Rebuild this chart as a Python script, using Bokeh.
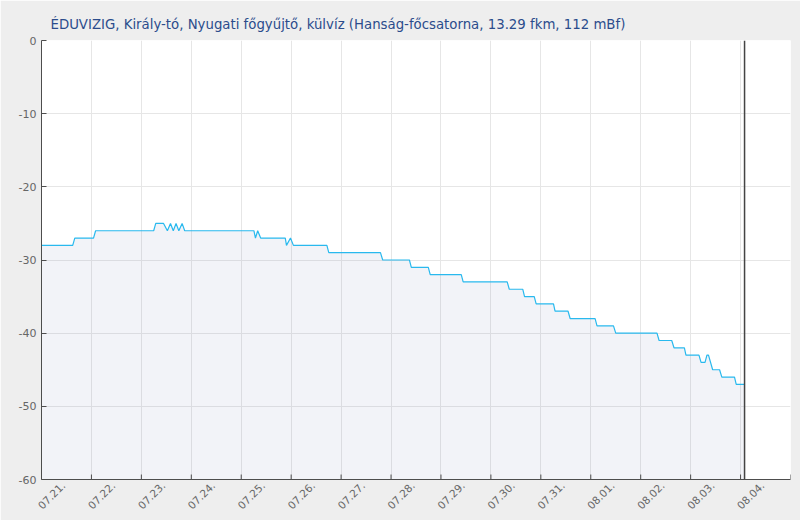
import math
import pandas as pd
from bokeh.plotting import figure
from bokeh.models import FixedTicker, DatetimeTickFormatter, Span, ColumnDataSource, BoxAnnotation
from bokeh.embed import file_html
from bokeh.resources import INLINE

YEAR = "2024"
TITLE = "ÉDUVIZIG, Király-tó, Nyugati főgyűjtő, külvíz (Hanság-főcsatorna, 13.29 fkm, 112 mBf)"

# measurement times (MM-DD HH:MM) and water levels (cm)
TIMES = [
    "07-21 00:00", "07-21 15:00", "07-21 16:00", "07-22 01:00", "07-22 02:00",
    "07-23 05:55", "07-23 06:55", "07-23 10:40", "07-23 12:30", "07-23 14:00",
    "07-23 15:20", "07-23 16:40", "07-23 18:00", "07-23 19:35", "07-23 20:50",
    "07-25 06:05", "07-25 06:50", "07-25 07:55", "07-25 09:20", "07-25 21:10",
    "07-25 21:45", "07-25 23:40", "07-26 01:05", "07-26 17:10", "07-26 18:05",
    "07-27 18:55", "07-27 20:00", "07-28 08:50", "07-28 09:45", "07-28 17:55",
    "07-28 18:50", "07-29 09:45", "07-29 10:40", "07-30 07:50", "07-30 08:50",
    "07-30 15:20", "07-30 16:10", "07-30 20:50", "07-30 21:45", "07-31 06:05",
    "07-31 06:50", "07-31 13:05", "07-31 14:05", "08-01 02:05", "08-01 03:00",
    "08-01 10:55", "08-01 12:00", "08-02 07:50", "08-02 08:50", "08-02 14:55",
    "08-02 16:00", "08-02 21:00", "08-02 21:45", "08-03 04:00", "08-03 05:00",
    "08-03 06:55", "08-03 07:50", "08-03 08:35", "08-03 10:35", "08-03 13:55",
    "08-03 15:00", "08-03 21:05", "08-03 21:55", "08-04 01:55",
]
LEVELS = [
    -28, -28, -27, -27, -26,
    -26, -25, -25, -26, -25,
    -26, -25, -26, -25, -26,
    -26, -27, -26, -27, -27,
    -28, -27, -28, -28, -29,
    -29, -30, -30, -31, -31,
    -32, -32, -33, -33, -34,
    -34, -35, -35, -36, -36,
    -37, -37, -38, -38, -39,
    -39, -40, -40, -41, -41,
    -42, -42, -43, -43, -44,
    -44, -43, -43, -45, -45,
    -46, -46, -47, -47,
]

DAYS = ["07-21", "07-22", "07-23", "07-24", "07-25", "07-26", "07-27", "07-28",
        "07-29", "07-30", "07-31", "08-01", "08-02", "08-03", "08-04", "08-05"]
DAY_LABELS = ["07.21.", "07.22.", "07.23.", "07.24.", "07.25.", "07.26.", "07.27.",
              "07.28.", "07.29.", "07.30.", "07.31.", "08.01.", "08.02.", "08.03.", "08.04."]
Y_TICKS = [0, -10, -20, -30, -40, -50, -60]
Y_LABELS = ["0", "-10", "-20", "-30", "-40", "-50", "-60"]
Y_MIN, Y_MAX = -60, 0

FONT = "DejaVu Sans"
TICK_LEN = 0.68  # inside x tick length, in data units (~5px)

def ts(s):
    return pd.to_datetime(f"{YEAR}-{s}", format="%Y-%m-%d %H:%M")

t = [ts(s) for s in TIMES]
days = [ts(d + " 00:00") for d in DAYS]
day_ms = [d.value / 1e6 for d in days]
LABEL_SHIFT_MS = 10.5 * 3600 * 1000
label_ms = [m + LABEL_SHIFT_MS for m in day_ms[:len(DAY_LABELS)]]
now_ms = t[-1].value / 1e6

src = ColumnDataSource(dict(t=t, v=LEVELS, base=[Y_MIN] * len(LEVELS)))
tick_src = ColumnDataSource(dict(x=days, y0=[Y_MIN] * len(days), y1=[Y_MIN + TICK_LEN] * len(days)))

p = figure(width=800, height=520, x_axis_type="datetime",
           x_range=(days[0], days[-1]), y_range=(Y_MIN, Y_MAX),
           output_backend="svg", toolbar_location=None,
           min_border_left=41, min_border_right=10, min_border_top=40, min_border_bottom=41)
p.outline_line_color = None
p.background_fill_color = "white"
p.border_fill_color = "#eeeeee"

# white chart card inside the grey page border
p.add_layout(BoxAnnotation(left=5, right=794, top=5, bottom=514,
                           left_units="canvas", right_units="canvas",
                           top_units="canvas", bottom_units="canvas",
                           fill_color="white", fill_alpha=1.0, line_color=None,
                           level="image"))

p.title.text = TITLE
p.title.text_font = FONT
p.title.text_font_size = "13.3px"
p.title.text_font_style = "normal"
p.title.text_color = "#2b4c8c"
p.title.align = "left"
p.title.offset = 9
p.title.standoff = 18

p.varea(x="t", y1="v", y2="base", source=src, fill_color="#7d87b9", fill_alpha=0.1)
p.line(x="t", y="v", source=src, line_color="#29b9ee", line_width=1.2)
p.segment(x0="x", x1="x", y0="y0", y1="y1", source=tick_src, line_color="#4d4d4d", line_width=1)

p.add_layout(Span(location=now_ms, dimension="height", line_color="#444444", line_width=1.5))

xa = p.xaxis[0]
xa.ticker = FixedTicker(ticks=label_ms)
xa.formatter = DatetimeTickFormatter(days="%m.%d.", hours="%m.%d.", months="%m.%d.", minutes="%m.%d.")
xa.major_label_overrides = {m: lab for m, lab in zip(label_ms, DAY_LABELS)}
xa.major_label_orientation = math.pi / 4
xa.major_label_text_font = FONT
xa.major_label_text_font_size = "10.5px"
xa.major_label_text_color = "#666666"
xa.major_label_standoff = 4
xa.major_tick_in = 0
xa.major_tick_out = 0
xa.major_tick_line_color = None
xa.minor_tick_line_color = None
xa.axis_line_color = "#4d4d4d"

ya = p.yaxis[0]
ya.ticker = FixedTicker(ticks=Y_TICKS)
ya.major_label_overrides = {v: lab for v, lab in zip(Y_TICKS, Y_LABELS)}
ya.major_tick_in = 5
ya.major_tick_out = 0
ya.minor_tick_line_color = None
ya.axis_line_color = "#4d4d4d"
ya.major_tick_line_color = "#4d4d4d"
ya.major_label_text_font = FONT
ya.major_label_text_font_size = "11px"
ya.major_label_text_color = "#666666"
ya.major_label_standoff = 5

p.xgrid.ticker = FixedTicker(ticks=day_ms)
p.ygrid.ticker = FixedTicker(ticks=Y_TICKS)
p.xgrid.grid_line_color = "#e6e6e6"
p.ygrid.grid_line_color = "#e6e6e6"

open("out.html", "w").write(file_html(p, INLINE))
